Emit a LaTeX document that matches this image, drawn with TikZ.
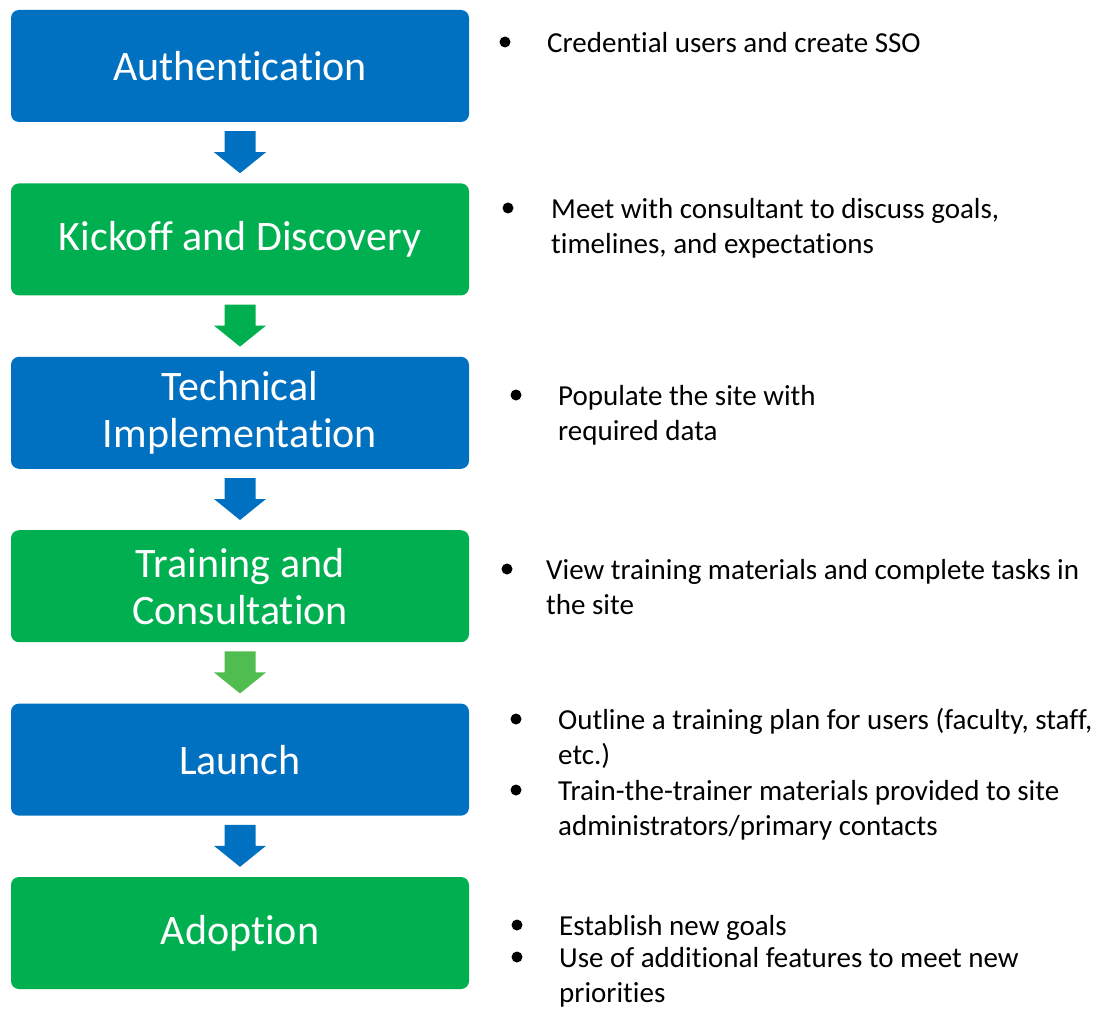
\documentclass[tikz,border=0pt]{standalone}
\usepackage{fontspec}
\setmainfont[Ligatures={NoCommon,NoRare}]{Carlito}
\usetikzlibrary{positioning,calc}
\definecolor{flowblue}{RGB}{0,112,192}
\definecolor{flowgreen}{RGB}{0,176,80}
\definecolor{lightgreen}{RGB}{80,189,80}
\tikzset{
	stage/.style={rectangle, rounded corners=8pt, minimum width=458pt, minimum height=112pt, inner sep=0pt, text=white, align=center, font=\fontsize{42}{47}\selectfont},
	bluestage/.style={stage, fill=flowblue},
	greenstage/.style={stage, fill=flowgreen},
	item/.style={anchor=north west, align=left, inner sep=0pt, font=\fontsize{29}{35}\selectfont},
	itemdot/.style={circle, fill=black, inner sep=0pt, minimum size=11pt}
}
\begin{document}
\begin{tikzpicture}[x=1pt, y=1pt, line join=round]
	\useasboundingbox (0,0) rectangle (1119,-1011);
	\node[bluestage] (auth) at (240,-66) {Authentication};
	\node[greenstage, below=61pt of auth] (kick) {Kickoff and Discovery};
	\node[bluestage, below=61pt of kick] (tech) {Technical\\Implementation};
	\node[greenstage, below=61pt of tech] (train) {Training and\\Consultation};
	\node[bluestage, below=61pt of train] (launch) {Launch};
	\node[greenstage, below=61pt of launch] (adopt) {Adoption};
	\foreach \a/\b/\c in {auth/kick/flowblue, kick/tech/flowgreen, tech/train/flowblue, train/launch/lightgreen, launch/adopt/flowblue}{
		\fill[\c] ([yshift=-9pt]\a.south) ++(-15.5,0) -- ++(31,0) -- ++(0,-21) -- ++(10.5,0)
			-- ([yshift=10pt]\b.north) -- ++(-26,21) -- ++(10.5,0) -- cycle;
	}
	\path
	(505,-42) node[itemdot] (d1) {}
	(547,-27.5) node[item] (t1) {\strut Credential users and create SSO}
	(508,-208) node[itemdot] (d2) {}
	(551,-193.5) node[item] (t2) {\strut Meet with consultant to discuss goals,\\timelines, and expectations}
	(516,-395) node[itemdot] (d3) {}
	(558,-380.5) node[item] (t3) {\strut Populate the site with\\required data}
	(507,-569) node[itemdot] (d4) {}
	(546,-554.5) node[item] (t4) {\strut View training materials and complete tasks in\\the site}
	(516,-719) node[itemdot] (d5) {}
	(558,-704.5) node[item] (t5) {\strut Outline a training plan for users (faculty, staff,\\etc.)}
	(516,-790) node[itemdot] (d6) {}
	(558,-775.5) node[item] (t6) {\strut Train-the-trainer materials provided to site\\administrators/primary contacts}
	(517,-925) node[itemdot] (d7) {}
	(559,-910.5) node[item] (t7) {\strut Establish new goals}
	(517,-957) node[itemdot] (d8) {}
	(559,-942.5) node[item] (t8) {\strut Use of additional features to meet new\\priorities}
	;
\end{tikzpicture}
\end{document}
